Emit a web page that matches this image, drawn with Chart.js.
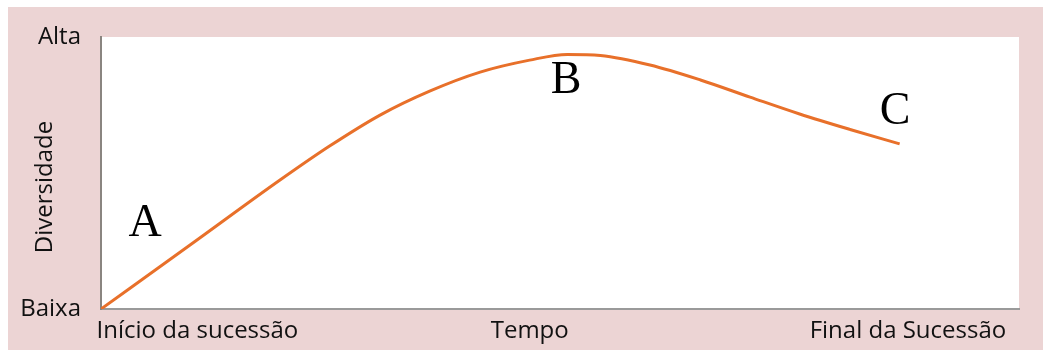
<!DOCTYPE html>
<html>
<head>
<meta charset="utf-8">
<script src="https://cdn.jsdelivr.net/npm/chart.js@4"></script>
<style>
  html, body { margin: 0; padding: 0; background: #fff; }
  #frame {
    position: absolute; left: 8px; top: 7px;
    width: 1035px; height: 343px;
    background: #ecd4d4;
  }
  #chart { display: block; }
</style>
</head>
<body>
<div id="frame"><canvas id="chart" width="1035" height="343"></canvas></div>
<script>
// Curve (x: time 0-100, y: diversity 0-100)
const timeValues = [0, 9.7, 19.5, 24.9, 30.4, 35.8, 41.3, 46.7, 50.8, 54.4, 59.8, 65.3, 70.7, 76.1, 81.6, 87.0];
const diversityValues = [0, 23.5, 47.4, 59.9, 71.3, 80.1, 87.1, 91.5, 93.6, 93.2, 89.7, 84.2, 77.9, 71.7, 66.0, 60.7];

// Axis labels
const xTickValues = [10.5, 46.7, 87.9];
const xTickLabels = ['Início da sucessão', 'Tempo', 'Final da Sucessão'];
const yTickValues = [0, 100];
const yTickLabels = ['Baixa', 'Alta'];
const yTitle = 'Diversidade';

// Stage letters on the curve
const stageLetters = ['A', 'B', 'C'];
const stageX = [4.8, 50.65, 86.5];
const stageY = [31.2, 83.8, 72.4];

const labelFont = { family: 'Open Sans', size: 24 };

// White plot background
const plotBackground = {
    id: 'plotBackground',
    beforeDraw(chart) {
        const { ctx, chartArea } = chart;
        ctx.save();
        ctx.fillStyle = '#ffffff';
        ctx.fillRect(chartArea.left, chartArea.top, chartArea.right - chartArea.left, chartArea.bottom - chartArea.top);
        ctx.restore();
    }
};

// Letters A, B, C and the rotated axis title
const stageLabels = {
    id: 'stageLabels',
    afterDatasetsDraw(chart) {
        const { ctx, chartArea } = chart;
        const xs = chart.scales.x, ys = chart.scales.y;
        ctx.save();
        ctx.fillStyle = '#000';
        ctx.font = '46px "Liberation Serif"';
        ctx.textAlign = 'center';
        ctx.textBaseline = 'middle';
        stageLetters.forEach((letter, i) => {
            ctx.fillText(letter, xs.getPixelForValue(stageX[i]), ys.getPixelForValue(stageY[i]));
        });

        // axis title sits a little below the middle of the axis
        ctx.fillStyle = '#111';
        ctx.font = '24px "Open Sans"';
        ctx.translate(37, (chartArea.top + chartArea.bottom) / 2 + 14);
        ctx.rotate(-Math.PI / 2);
        ctx.fillText(yTitle, 0, 0);
        ctx.restore();
    }
};

new Chart(document.getElementById('chart'), {
    type: 'line',
    data: {
        datasets: [{
            data: timeValues.map((t, i) => ({ x: t, y: diversityValues[i] })),
            borderColor: '#e8702a',
            borderWidth: 3,
            pointRadius: 0,
            cubicInterpolationMode: 'monotone',
            fill: false
        }]
    },
    options: {
        responsive: false,
        animation: false,
        layout: { padding: { top: 30, right: 24, left: 0, bottom: 0 } },
        plugins: {
            legend: { display: false },
            tooltip: { enabled: false }
        },
        scales: {
            x: {
                type: 'linear',
                min: 0,
                max: 100,
                afterBuildTicks: scale => {
                    scale.ticks = xTickValues.map(v => ({ value: v }));
                },
                afterFit: scale => {
                    scale.height = 41;
                    scale.paddingLeft = 0;
                    scale.paddingRight = 0;
                },
                ticks: {
                    autoSkip: false,
                    maxRotation: 0,
                    padding: 8,
                    color: '#111',
                    font: labelFont,
                    callback: (value, index) => xTickLabels[index]
                },
                grid: { display: false, drawTicks: false },
                border: { display: true, color: '#9a9a9a', width: 2 }
            },
            y: {
                type: 'linear',
                min: 0,
                max: 100,
                afterBuildTicks: scale => {
                    scale.ticks = yTickValues.map(v => ({ value: v }));
                },
                afterFit: scale => {
                    scale.width = 93;
                    scale.paddingTop = 0;
                    scale.paddingBottom = 0;
                },
                ticks: {
                    autoSkip: false,
                    padding: 20,
                    color: '#111',
                    font: labelFont,
                    callback: (value, index) => yTickLabels[index]
                },
                grid: { display: false, drawTicks: false },
                border: { display: true, color: '#8a8580', width: 2 }
            }
        }
    },
    plugins: [plotBackground, stageLabels]
});
</script>
</body>
</html>
